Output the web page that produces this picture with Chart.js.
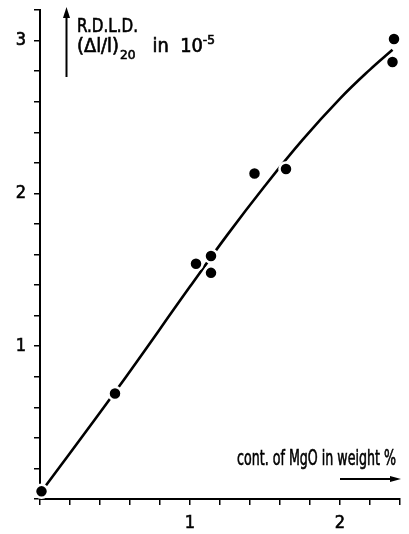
<!DOCTYPE html>
<html>
<head>
<meta charset="utf-8">
<script src="https://cdn.jsdelivr.net/npm/chart.js@4.4.0/dist/chart.umd.min.js"></script>
<style>
  html,body{margin:0;padding:0;background:#fff}
  #wrap{width:409px;height:534px;position:relative}
</style>
</head>
<body>
<div id="wrap"><canvas id="c"></canvas></div>
<script>
// measured points (content of MgO in weight %, R.D.L.D. in 1e-5)
const measX = [0.01, 0.50, 1.04, 1.14, 1.14, 1.43, 1.64, 2.36, 2.35];
const measY = [0.05, 0.69, 1.54, 1.59, 1.48, 2.13, 2.16, 3.01, 2.86];
// hand drawn fitting curve
const fitX = [0.01, 0.50, 1.00, 1.25, 1.50, 1.75, 2.00, 2.20, 2.35];
const fitY = [0.05, 0.70, 1.39, 1.73, 2.05, 2.35, 2.62, 2.81, 2.94];
// labelled ticks
const xLabels = [1, 2];
const yLabels = [1, 2, 3];

const FONT = '"DejaVu Sans Condensed", "Liberation Sans Narrow", "DejaVu Sans", sans-serif';

function tickLabel(list){
  return v => {
    const r = Math.round(v);
    return Math.abs(v - r) < 1e-6 && list.includes(r) ? String(r) : '';
  };
}

// text squeezed to width w, slightly emboldened
function fitText(ctx, text, x, y, w, font){
  ctx.font = font;
  const s = w / ctx.measureText(text).width;
  ctx.save(); ctx.translate(x, y); ctx.scale(s, 1);
  ctx.fillText(text, 0, 0); ctx.strokeText(text, 0, 0);
  ctx.restore();
}

// draws a run of [text, size, dy, extra] pieces squeezed to width w
function fitRun(ctx, pieces, x, y, w){
  let total = 0;
  const widths = pieces.map(p => { ctx.font = p[1] + 'px ' + FONT; const m = ctx.measureText(p[0]).width + (p[3]||0); total += m; return m; });
  const s = w / total;
  ctx.save(); ctx.translate(x, y); ctx.scale(s, 1);
  let cx = 0;
  pieces.forEach((p, i) => {
    ctx.font = p[1] + 'px ' + FONT;
    ctx.fillText(p[0], cx, p[2]); ctx.strokeText(p[0], cx, p[2]);
    cx += widths[i];
  });
  ctx.restore();
}

const titles = {
  id: 'titles',
  afterDraw(chart){
    const {ctx, chartArea: a} = chart;
    ctx.save();
    ctx.fillStyle = '#000'; ctx.strokeStyle = '#000';
    ctx.textBaseline = 'alphabetic'; ctx.textAlign = 'left';

    // y title with upward arrow
    const ax = a.left + 26.5;
    ctx.lineWidth = 2;
    ctx.beginPath(); ctx.moveTo(ax, a.top + 67); ctx.lineTo(ax, a.top + 4); ctx.stroke();
    ctx.beginPath(); ctx.moveTo(ax, a.top - 3); ctx.lineTo(ax - 3.5, a.top + 8); ctx.lineTo(ax + 3.5, a.top + 8); ctx.closePath(); ctx.fill();
    ctx.lineWidth = 0.6;
    fitText(ctx, 'R.D.L.D.', a.left + 37, a.top + 22, 61, '20px ' + FONT);
    fitRun(ctx, [
      ['(\u0394l/l)', 19, 0, 1],
      ['20', 13, 7, 0],
      ['   in  10', 19, 0, 0],
      ['-5', 13, -8, 0]
    ], a.left + 37, a.top + 42, 138);

    // x title with arrow
    fitText(ctx, 'cont. of MgO in weight %', a.right - 163, a.bottom - 34, 159, '21px ' + FONT);
    const ay = a.bottom - 20;
    ctx.lineWidth = 1.8;
    ctx.beginPath(); ctx.moveTo(a.right - 60, ay); ctx.lineTo(a.right - 6, ay); ctx.stroke();
    ctx.beginPath(); ctx.moveTo(a.right + 1, ay); ctx.lineTo(a.right - 10, ay - 3); ctx.lineTo(a.right - 10, ay + 3); ctx.closePath(); ctx.fill();
    ctx.restore();
  }
};

function axis(min, max, labels, pos){
  return {
    type: 'linear', position: pos, min, max, z: 1,
    border: { display: true, color: '#000', width: 2 },
    grid: { display: true, drawOnChartArea: false, drawTicks: true, color: '#000', lineWidth: 1.5, tickLength: 6 },
    ticks: { stepSize: 0.2, autoSkip: false, maxRotation: 0, padding: 8, color: '#000',
             font: { family: FONT, size: 18, weight: '500' }, callback: tickLabel(labels),
             textStrokeColor: '#000', textStrokeWidth: 0.6 }
  };
}

const xAxis = axis(0, 2.4, xLabels, 'bottom');
xAxis.afterFit = s => { s.height = 35; s.paddingLeft = 0; s.paddingRight = 0; };
const yAxis = axis(0, 3.2, yLabels, 'left');
yAxis.afterFit = s => { s.width = 40; s.paddingTop = 0; s.paddingBottom = 0; };

new Chart(document.getElementById('c'), {
  type: 'scatter',
  data: {
    datasets: [
      { label: 'measured', data: measX.map((x, i) => ({x, y: measY[i]})), order: 0, clip: false,
        pointRadius: 6.5, pointBackgroundColor: '#000', pointBorderColor: '#fff', pointBorderWidth: 2.5, showLine: false },
      { label: 'fit', data: fitX.map((x, i) => ({x, y: fitY[i]})), order: 1, showLine: true,
        borderColor: '#000', borderWidth: 2.6, pointRadius: 0, tension: 0.4, fill: false }
    ]
  },
  options: {
    responsive: true, maintainAspectRatio: false, animation: false,
    layout: { padding: { left: 0, right: 2, top: 10, bottom: 0 } },
    plugins: { legend: { display: false }, tooltip: { enabled: false } },
    scales: { x: xAxis, y: yAxis }
  },
  plugins: [titles]
});
</script>
</body>
</html>
